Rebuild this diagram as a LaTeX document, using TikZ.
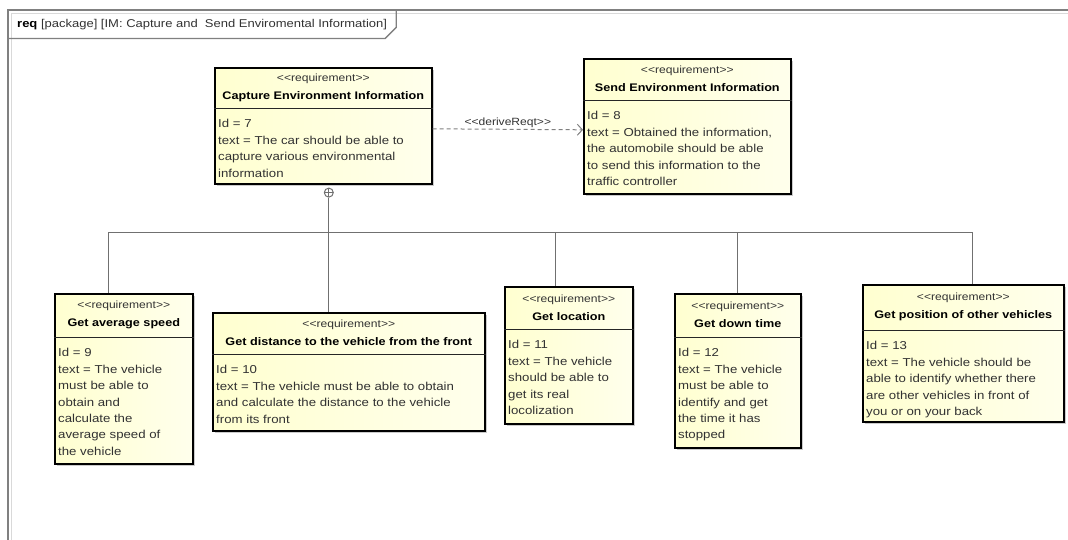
\documentclass[tikz,border=0pt]{standalone}
\usepackage{fontspec}
\newfontfamily\umlfont[FakeStretch=1.15]{Liberation Sans}
\usetikzlibrary{arrows.meta,positioning,shadows}

\definecolor{reqfill}{RGB}{255,255,208}
\definecolor{reqfillR}{RGB}{255,255,236}
\definecolor{linegray}{RGB}{112,112,112}
\definecolor{framegray}{RGB}{128,128,128}
\definecolor{textgray}{RGB}{50,50,50}

% stereotype line of a requirement header
\newcommand\reqkw{\fontsize{10.5}{18}\selectfont\color{textgray}\textless\textless requirement\textgreater\textgreater}

\begin{document}
\begin{tikzpicture}[
    x=1pt, y=-1pt,
    reqbox/.style={draw=black, line width=1.6pt, left color=reqfill, right color=reqfillR,
                   anchor=north west, inner sep=0pt,
                   drop shadow={shadow xshift=2.5pt, shadow yshift=-2.5pt, fill=black!45, opacity=0.45}},
    reqhead/.style={font=\umlfont\fontsize{11}{18}\selectfont, align=center, inner sep=0pt},
    reqbody/.style={font=\umlfont\fontsize{11.5}{16.4}\selectfont, text=textgray, align=left,
                    anchor=north west, inner xsep=4pt, inner ysep=11pt},
    sepline/.style={line width=0.9pt, black!85},
    tree/.style={draw=linegray, line width=1.3pt},
    compos/.style={circle, draw=linegray, line width=1pt, fill=white, inner sep=0pt, minimum size=9pt,
                   path picture={\draw[linegray, line width=0.8pt]
                     (path picture bounding box.north) -- (path picture bounding box.south)
                     (path picture bounding box.west) -- (path picture bounding box.east);}},
    derive/.style={draw=framegray, line width=1pt, dash pattern=on 4pt off 3pt,
                   -{Straight Barb[length=5pt, width=11pt]}},
    frame/.style={draw=framegray, line width=1.3pt},
    tab/.style={font=\umlfont\fontsize{11.3}{13}\selectfont, text=textgray, anchor=north west,
                minimum height=28pt, inner xsep=9pt, inner ysep=0pt},
  ]
  \useasboundingbox (0,0) rectangle (1068,539);

  % package frame
  \draw[framegray!30, line width=1pt] (11.5,545) -- (11.5,13.5) -- (1075,13.5);
  \draw[frame] (8,545) -- (8,10) -- (1075,10);
  \node[tab] (frametab) at (8,10) {\textbf{\color{black}req} [package] [IM: Capture and~ Send Enviromental Information]};
  \draw[frame] (frametab.south west) -- ([xshift=-11pt]frametab.south east)
    -- ([yshift=11pt]frametab.south east) -- (frametab.north east);

  % parent requirements
  \node[reqbox, minimum width=217pt, minimum height=116pt] (capture) at (214,67) {};
  \node[reqhead, minimum height=41pt, below=0pt of capture.north] (captureH) {{\reqkw}\\\textbf{Capture Environment Information}};
  \draw[sepline] (capture.west |- captureH.south) -- (capture.east |- captureH.south);
  \node[reqbody] (captureB) at (capture.west |- captureH.south) {Id = 7\\text = The car should be able to\\capture various environmental\\information};

  \node[reqbox, minimum width=207pt, minimum height=135pt] (send) at (583,58) {};
  \node[reqhead, minimum height=42pt, below=0pt of send.north] (sendH) {{\reqkw}\\\textbf{Send Environment Information}};
  \draw[sepline] (send.west |- sendH.south) -- (send.east |- sendH.south);
  \node[reqbody] (sendB) at (send.west |- sendH.south) {Id = 8\\text = Obtained the information,\\the automobile should be able\\to send this information to the\\traffic controller};

  % sub requirements
  \node[reqbox, minimum width=138pt, minimum height=170pt] (avgspeed) at (54,293) {};
  \node[reqhead, minimum height=44pt, below=0pt of avgspeed.north] (avgspeedH) {{\reqkw}\\\textbf{Get average speed}};
  \draw[sepline] (avgspeed.west |- avgspeedH.south) -- (avgspeed.east |- avgspeedH.south);
  \node[reqbody] (avgspeedB) at (avgspeed.west |- avgspeedH.south) {Id = 9\\text = The vehicle\\must be able to\\obtain and\\calculate the\\average speed of\\the vehicle};

  \node[reqbox, minimum width=272pt, minimum height=118pt] (distance) at (212,312) {};
  \node[reqhead, minimum height=42pt, below=0pt of distance.north] (distanceH) {{\reqkw}\\\textbf{Get distance to the vehicle from the front}};
  \draw[sepline] (distance.west |- distanceH.south) -- (distance.east |- distanceH.south);
  \node[reqbody] (distanceB) at (distance.west |- distanceH.south) {Id = 10\\text = The vehicle must be able to obtain\\and calculate the distance to the vehicle\\from its front};

  \node[reqbox, minimum width=128pt, minimum height=137pt] (location) at (504,286) {};
  \node[reqhead, minimum height=43pt, below=0pt of location.north] (locationH) {{\reqkw}\\\textbf{Get location}};
  \draw[sepline] (location.west |- locationH.south) -- (location.east |- locationH.south);
  \node[reqbody] (locationB) at (location.west |- locationH.south) {Id = 11\\text = The vehicle\\should be able to\\get its real\\locolization};

  \node[reqbox, minimum width=126pt, minimum height=154pt] (downtime) at (674,293) {};
  \node[reqhead, minimum height=44pt, below=0pt of downtime.north] (downtimeH) {{\reqkw}\\\textbf{Get down time}};
  \draw[sepline] (downtime.west |- downtimeH.south) -- (downtime.east |- downtimeH.south);
  \node[reqbody] (downtimeB) at (downtime.west |- downtimeH.south) {Id = 12\\text = The vehicle\\must be able to\\identify and get\\the time it has\\stopped};

  \node[reqbox, minimum width=201pt, minimum height=137pt] (position) at (862,284) {};
  \node[reqhead, minimum height=46pt, below=0pt of position.north] (positionH) {{\reqkw}\\\textbf{Get position of other vehicles}};
  \draw[sepline] (position.west |- positionH.south) -- (position.east |- positionH.south);
  \node[reqbody] (positionB) at (position.west |- positionH.south) {Id = 13\\text = The vehicle should be\\able to identify whether there\\are other vehicles in front of\\you or on your back};

  % derive relation
  \draw[derive] ([yshift=-3pt]capture.east) -- ([yshift=-3.5pt]send.west)
    node[midway, above=-2pt, font=\umlfont\fontsize{10.5}{12}\selectfont, text=textgray]
    {\textless\textless deriveReqt\textgreater\textgreater};

  % containment tree
  \node[compos, below=3pt of capture.south, xshift=5.5pt] (cmp) {};
  \coordinate[below=35pt of cmp.south] (joint);
  \draw[tree] (cmp) -- (joint);
  \foreach \kid/\dx in {avgspeed/-15, distance/-20, location/-13, downtime/0, position/9.5}
    \draw[tree] (joint) -| ([xshift=\dx pt]\kid.north);
\end{tikzpicture}
\end{document}
